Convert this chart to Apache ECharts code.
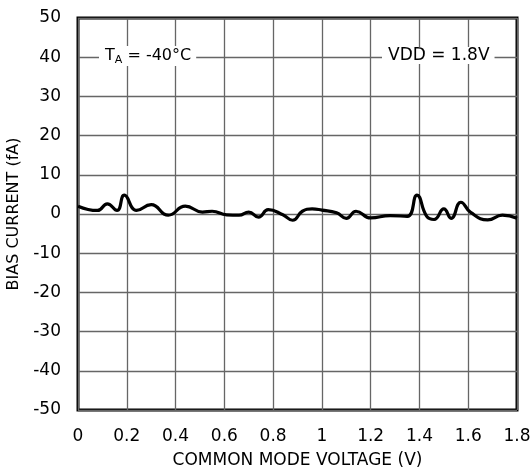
<!DOCTYPE html>
<html>
<head>
<meta charset="utf-8">
<script src="https://cdn.jsdelivr.net/npm/echarts@6/dist/echarts.min.js"></script>
<style>
  html, body { margin: 0; padding: 0; background: #fff; }
  #chart { width: 531px; height: 473px; }
</style>
</head>
<body>
<div id="chart"></div>
<script>
// Bias current vs common mode voltage, TA = -40°C, VDD = 1.8V
const voltage = [0, 0.08, 0.12, 0.16, 0.19, 0.24, 0.30, 0.37, 0.44, 0.51, 0.55, 0.61, 0.66, 0.70, 0.74, 0.78,
    0.84, 0.88, 0.92, 0.96, 1.00, 1.06, 1.10, 1.14, 1.20, 1.28, 1.35, 1.39, 1.43, 1.46, 1.50, 1.53,
    1.57, 1.61, 1.68, 1.74, 1.80];
const biasCurrent = [2.0, 0.9, 2.6, 0.9, 4.8, 0.9, 2.4, -0.3, 2.0, 0.5, 0.7, -0.2, -0.3, 0.5, -0.8, 1.1,
    -0.2, -1.6, 0.7, 1.3, 1.0, 0.3, -1.1, 0.7, -1.0, -0.4, -0.6, 4.8, -0.6, -1.4, 1.3, -1.1,
    3.0, 0.4, -1.5, -0.3, -1.1];

const FONT = 'DejaVu Sans';
const chart = echarts.init(document.getElementById('chart'));

chart.setOption({
    animation: false,
    grid: { left: 78, right: 14, top: 18, bottom: 63, outerBoundsMode: 'none', containLabel: false,
        show: true, borderColor: '#000', borderWidth: 3, backgroundColor: 'transparent' },
    xAxis: {
        type: 'value', min: 0, max: 1.8, interval: 0.2,
        name: 'COMMON MODE VOLTAGE (V)', nameLocation: 'middle', nameGap: 42,
        nameTextStyle: { color: '#000', fontSize: 17, fontFamily: FONT },
        axisLine: { show: false }, axisTick: { show: false },
        axisLabel: { color: '#000', fontSize: 17, fontFamily: FONT, margin: 18,
            formatter: v => String(Math.round(v * 10) / 10) },
        splitLine: { show: true, lineStyle: { color: '#666', width: 1.3 } }
    },
    yAxis: {
        type: 'value', min: -50, max: 50, interval: 10,
        name: 'BIAS CURRENT (fA)', nameLocation: 'middle', nameGap: 55,
        nameTextStyle: { color: '#000', fontSize: 16, fontFamily: FONT },
        axisLine: { show: false }, axisTick: { show: false },
        axisLabel: { color: '#000', fontSize: 17, fontFamily: FONT, margin: 17 },
        splitLine: { show: true, lineStyle: { color: '#666', width: 1.3 } }
    },
    graphic: [
        {
            type: 'text', left: 99, top: 46, z: 10,
            style: {
                text: '{a|T}{s|A}{a| = -40°C}',
                backgroundColor: '#fff', padding: [0, 5, 0, 6],
                rich: {
                    a: { fontSize: 16, fontFamily: FONT, fill: '#000', lineHeight: 20 },
                    s: { fontSize: 11, fontFamily: FONT, fill: '#000', verticalAlign: 'bottom', lineHeight: 20, padding: [7, 0, 0, 0] }
                }
            }
        },
        {
            type: 'text', left: 382, top: 47, z: 10,
            style: { text: 'VDD = 1.8V', fontSize: 17, fontFamily: FONT, fill: '#000', backgroundColor: '#fff', padding: [0, 5, 0, 6] }
        }
    ],
    series: [{
        type: 'line', smooth: 0.5, showSymbol: false,
        data: voltage.map((v, i) => [v, biasCurrent[i]]),
        lineStyle: { color: '#000', width: 3.2 }
    }]
});
</script>
</body>
</html>
